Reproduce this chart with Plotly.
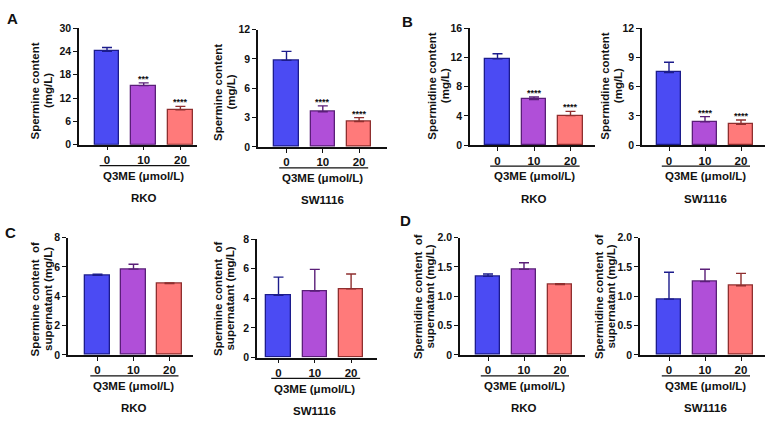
import plotly.graph_objects as go

W, H = 773, 426

categories = ["0", "10", "20"]
x_title = "Q3ME (μmol/L)"

# Panel A: spermine content (mg/L)
a_rko_mean = [24.0, 15.2, 9.0]
a_rko_err = [1.0, 0.7, 0.85]
a_rko_sig = ["", "***", "****"]
a_sw_mean = [8.85, 3.6, 2.6]
a_sw_err = [0.92, 0.6, 0.4]
a_sw_sig = ["", "****", "****"]

# Panel B: spermidine content (mg/L)
b_rko_mean = [11.8, 6.25, 4.05]
b_rko_err = [0.7, 0.33, 0.58]
b_rko_sig = ["", "****", "****"]
b_sw_mean = [7.45, 2.4, 2.15]
b_sw_err = [1.05, 0.53, 0.44]
b_sw_sig = ["", "****", "****"]

# Panel C: spermine content of supernatant (mg/L)
c_rko_mean = [5.42, 5.85, 4.86]
c_rko_err = [0.08, 0.33, 0.04]
c_sw_mean = [4.2, 4.5, 4.65]
c_sw_err = [1.24, 1.46, 1.0]

# Panel D: spermidine content of supernatant (mg/L)
d_rko_mean = [1.34, 1.46, 1.20]
d_rko_err = [0.04, 0.11, 0.015]
d_sw_mean = [0.95, 1.25, 1.18]
d_sw_err = [0.46, 0.21, 0.21]

fills = ["#4b4bf3", "#b04fd8", "#ff7a7a"]
edges = ["#1c1c8c", "#5a1f78", "#8f2f2f"]

FONT = "Arial, Liberation Sans, sans-serif"
FS = 11.5
TFS = 10.5

# layout geometry per subplot (pixels)
panels = [
    dict(mean=a_rko_mean, err=a_rko_err, sig=a_rko_sig, ymax=30, dtick=6, fmt="int",
         x0=79, x1=197, c0=107, sp=36.7, yz=142.7, yt=22.7,
         ytitle=["Spermine content", "(mg/L)"], tx=48, ty=87.5, cell="RKO"),
    dict(mean=a_sw_mean, err=a_sw_err, sig=a_sw_sig, ymax=12, dtick=3, fmt="int",
         x0=258, x1=387, c0=286.5, sp=36.3, yz=145, yt=24.3,
         ytitle=["Spermine content", "(mg/L)"], tx=231, ty=89, cell="SW1116"),
    dict(mean=b_rko_mean, err=b_rko_err, sig=b_rko_sig, ymax=16, dtick=4, fmt="int",
         x0=470, x1=595, c0=497.5, sp=36.5, yz=143.3, yt=22.7,
         ytitle=["Spermidine content", "(mg/L)"], tx=445, ty=82.5, cell="RKO"),
    dict(mean=b_sw_mean, err=b_sw_err, sig=b_sw_sig, ymax=12, dtick=3, fmt="int",
         x0=642, x1=765, c0=669, sp=36.0, yz=143.3, yt=22.7,
         ytitle=["Spermidine content", "(mg/L)"], tx=618, ty=82.5, cell="SW1116"),
    dict(mean=c_rko_mean, err=c_rko_err, sig=None, ymax=8, dtick=2, fmt="int",
         x0=68, x1=193, c0=97.5, sp=36.0, yz=359, yt=238.3,
         ytitle=["Spermine content  of", "supernatant (mg/L)"], tx=48, ty=301.5, cell="RKO"),
    dict(mean=c_sw_mean, err=c_sw_err, sig=None, ymax=8, dtick=2, fmt="int",
         x0=257, x1=377, c0=278.5, sp=36.3, yz=361.7, yt=240,
         ytitle=["Spermine content  of", "supernatant (mg/L)"], tx=230, ty=301, cell="SW1116"),
    dict(mean=d_rko_mean, err=d_rko_err, sig=None, ymax=2, dtick=0.5, fmt="dec",
         x0=460, x1=585, c0=488, sp=36.0, yz=359, yt=238.3,
         ytitle=["Spermidine content  of", "supernatant (mg/L)"], tx=430, ty=299, cell="RKO"),
    dict(mean=d_sw_mean, err=d_sw_err, sig=None, ymax=2, dtick=0.5, fmt="dec",
         x0=640, x1=765, c0=669, sp=36.0, yz=359, yt=238.3,
         ytitle=["Spermidine content  of", "supernatant (mg/L)"], tx=611, ty=299, cell="SW1116"),
]
LINE_GAP = 12.5

fig = go.Figure()
annotations = []
shapes = []

for i, p in enumerate(panels):
    n = i + 1
    xa = "x" if n == 1 else f"x{n}"
    ya = "y" if n == 1 else f"y{n}"
    xkey = "xaxis" if n == 1 else f"xaxis{n}"
    ykey = "yaxis" if n == 1 else f"yaxis{n}"
    c2 = p["c0"] + 2 * p["sp"]
    xr = [-(p["c0"] - p["x0"]) / p["sp"], 2 + (p["x1"] - c2) / p["sp"]]
    bw = 24.5 / p["sp"]
    for k in range(3):
        fig.add_trace(go.Bar(
            x=[k], y=[p["mean"][k]], width=[bw], xaxis=xa, yaxis=ya,
            marker=dict(color=fills[k], line=dict(color=edges[k], width=1.3)),
            error_y=dict(type="data", symmetric=False, array=[p["err"][k]],
                         arrayminus=[0], color=edges[k], thickness=1.4, width=5),
            showlegend=False, hoverinfo="skip"))
    nt = int(round(p["ymax"] / p["dtick"]))
    tv = [j * p["dtick"] for j in range(nt + 1)]
    if p["fmt"] == "int":
        tt = [f"{v:g}" for v in tv]
    else:
        tt = ["0"] + [f"{v:.1f}" for v in tv[1:]]
    fig.layout[xkey] = dict(
        domain=[p["x0"] / W, p["x1"] / W], range=xr, anchor=ya,
        showline=True, linecolor="#111", linewidth=1.5, ticks="outside",
        ticklen=4, tickwidth=1.3, tickcolor="#111",
        tickvals=[0, 1, 2], ticktext=categories,
        tickfont=dict(family=FONT, size=FS, color="#111", weight="bold"),
        showgrid=False, zeroline=False, fixedrange=True)
    fig.layout[ykey] = dict(
        domain=[1 - p["yz"] / H, 1 - p["yt"] / H], range=[0, p["ymax"]], anchor=xa,
        showline=True, linecolor="#111", linewidth=1.5, ticks="outside",
        ticklen=4, tickwidth=1.3, tickcolor="#111",
        tickvals=tv, ticktext=tt,
        tickfont=dict(family=FONT, size=TFS, color="#111", weight="bold"),
        showgrid=False, zeroline=False, fixedrange=True)
    # significance stars
    if p["sig"]:
        for k in range(3):
            if p["sig"][k]:
                annotations.append(dict(
                    x=k, y=p["mean"][k] + p["err"][k], xref=xa, yref=ya,
                    text=f"<b>{p['sig'][k]}</b>", showarrow=False,
                    yanchor="bottom", yshift=-3,
                    font=dict(family=FONT, size=9, color="#111")))
    # y-axis title, two tightly spaced lines
    for j, line in enumerate(p["ytitle"]):
        annotations.append(dict(
            x=(p["tx"] - LINE_GAP * (1 - j)) / W, y=1 - p["ty"] / H,
            xref="paper", yref="paper",
            text=f"<b>{line}</b>", showarrow=False, textangle=-90,
            xanchor="center", yanchor="middle",
            font=dict(family=FONT, size=FS, color="#111")))
    # x-axis title + underline + cell line
    shapes.append(dict(type="line", xref=xa, yref="paper",
                       x0=-0.2, x1=2.25,
                       y0=1 - (p["yz"] + 21.5) / H, y1=1 - (p["yz"] + 21.5) / H,
                       line=dict(color="#111", width=1.2)))
    annotations.append(dict(
        x=1, y=1 - (p["yz"] + 32) / H, xref=xa, yref="paper",
        text=f"<b>{x_title}</b>", showarrow=False, yanchor="middle",
        font=dict(family=FONT, size=FS, color="#111")))
    annotations.append(dict(
        x=1, y=1 - (p["yz"] + 55) / H, xref=xa, yref="paper",
        text=f"<b>{p['cell']}</b>", showarrow=False, yanchor="middle",
        font=dict(family=FONT, size=FS, color="#111")))

panel_letters = [("A", 12, 12.5), ("B", 407.5, 16), ("C", 10.5, 233), ("D", 405.5, 221)]
for letter, lx, ly in panel_letters:
    annotations.append(dict(
        x=lx / W, y=1 - ly / H, xref="paper", yref="paper",
        text=f"<b>{letter}</b>", showarrow=False, xanchor="center", yanchor="middle",
        font=dict(family=FONT, size=15, color="#111")))

fig.update_layout(
    width=W, height=H, margin=dict(l=0, r=0, t=0, b=0),
    paper_bgcolor="white", plot_bgcolor="white",
    annotations=annotations, shapes=shapes, bargap=0,
    font=dict(family=FONT, color="#111"))

page_fix = (
    "var de=document.documentElement, b=document.body;"
    "[de,b].forEach(function(e){e.style.margin='0';e.style.padding='0';"
    "e.style.overflow='hidden';});"
)
fig.write_html("out.html", config={"displayModeBar": False}, post_script=page_fix)
